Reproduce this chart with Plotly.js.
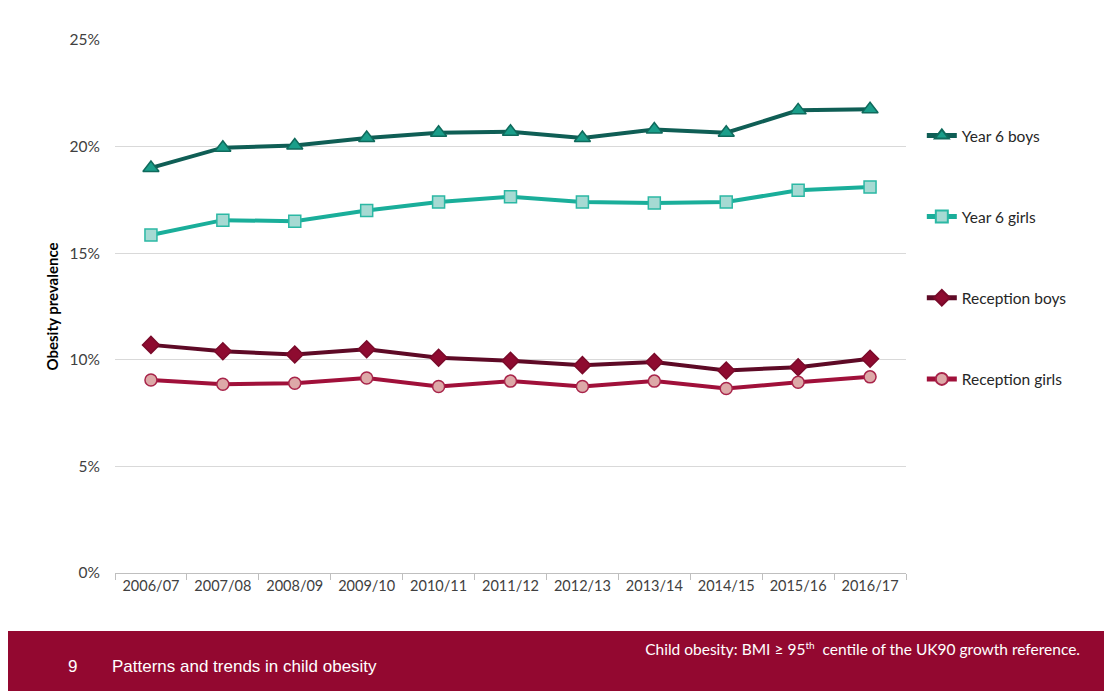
<!DOCTYPE html>
<html>
<head>
<meta charset="utf-8">
<script src="https://cdn.plot.ly/plotly-3.0.1.min.js"></script>
<style>
  html, body { margin: 0; padding: 0; background: #fff; }
  #wrap { position: relative; width: 1104px; height: 691px; overflow: hidden; }
  #chart { position: absolute; left: 0; top: 0; width: 1104px; height: 691px; }
  #banner { position: absolute; left: 8px; top: 631px; width: 1096px; height: 60px; background: #930830; z-index: 5; }
  #num { position: absolute; left: 60px; top: 26px; color: #fff; font-family: "Liberation Sans", Arial, sans-serif; font-size: 17px; }
  #title { position: absolute; left: 104px; top: 26px; color: #fff; font-family: "Liberation Sans", Arial, sans-serif; font-size: 17px; }
  #note { position: absolute; right: 24px; top: 8px; color: #fff; font-family: Lato, "Open Sans", sans-serif; font-size: 15.5px; white-space: nowrap; }
  #note sup { font-size: 10px; }
</style>
</head>
<body>
<div id="wrap">
  <div id="chart"></div>
  <div id="banner">
    <div id="num">9</div>
    <div id="title">Patterns and trends in child obesity</div>
    <div id="note">Child obesity: BMI ≥ 95<sup>th</sup>&nbsp; centile of the UK90 growth reference.</div>
  </div>
</div>
<script>
const years = ["2006/07","2007/08","2008/09","2009/10","2010/11","2011/12","2012/13","2013/14","2014/15","2015/16","2016/17"];
const year6Boys = [19.0, 19.95, 20.05, 20.4, 20.65, 20.7, 20.4, 20.8, 20.65, 21.7, 21.75];
const year6Girls = [15.85, 16.55, 16.5, 17.0, 17.4, 17.65, 17.4, 17.35, 17.4, 17.95, 18.1];
const receptionBoys = [10.7, 10.4, 10.25, 10.5, 10.1, 9.95, 9.75, 9.9, 9.5, 9.65, 10.05];
const receptionGirls = [9.05, 8.85, 8.9, 9.15, 8.75, 9.0, 8.75, 9.0, 8.65, 8.95, 9.2];
const yTicks = [0, 5, 10, 15, 20, 25];
const yTickLabels = ["0%", "5%", "10%", "15%", "20%", "25%"];

function tr(name, vals, lineColor, symbol, size, fill, outline, group) {
  return {
    type: "scatter", mode: "lines+markers", name: name, x: years, y: vals,
    legendgroup: group,
    line: { color: lineColor, width: 4 },
    marker: { symbol: symbol, size: size, color: fill, line: { color: outline, width: 1.5 } }
  };
}

const data = [
  tr("Year 6 boys", year6Boys, "#0F5E55", "triangle-up", 14, "#1A9E8A", "#0F6A5C", "a"),
  tr("Year 6 girls", year6Girls, "#1AAE9A", "square", 12, "#A6DAD3", "#2BB8A4", "b"),
  tr("Reception boys", receptionBoys, "#5E0A26", "diamond", 13, "#8E0B30", "#7A0A2A", "c"),
  tr("Reception girls", receptionGirls, "#A0103A", "circle", 12, "#DDA9A8", "#A8244A", "d")
];

const layout = {
  width: 1104, height: 691,
  margin: { l: 115, r: 198, t: 40, b: 118 },
  paper_bgcolor: "#fff", plot_bgcolor: "#fff",
  font: { family: "Lato, 'Open Sans', sans-serif", size: 14, color: "#404040" },
  showlegend: true,
  legend: {
    x: 1.02, xanchor: "left", y: 0.852, yanchor: "top",
    tracegroupgap: 58, itemwidth: 30, itemsizing: "constant",
    font: { family: "Lato, 'Open Sans', sans-serif", size: 15.5, color: "#262626" },
    bgcolor: "rgba(0,0,0,0)"
  },
  xaxis: {
    type: "category", range: [-0.5, 10.5],
    showgrid: false, showline: true, linecolor: "#bfbfbf", linewidth: 1,
    ticks: "outside", tickson: "boundaries", ticklen: 6, tickcolor: "#bfbfbf",
    tickfont: { size: 14.5, color: "#404040" }, zeroline: false, fixedrange: true
  },
  yaxis: {
    range: [0, 25], tickvals: yTicks, ticktext: yTickLabels,
    showgrid: true, gridcolor: "#d9d9d9", gridwidth: 1,
    showline: false, zeroline: false, ticks: "", ticklabelstandoff: 14,
    tickfont: { size: 15.5, color: "#404040" },
    title: { text: "<b>Obesity prevalence</b>", font: { size: 15, color: "#000" }, standoff: 7 },
    fixedrange: true
  }
};

Plotly.newPlot("chart", data, layout, { displayModeBar: false, staticPlot: true });
</script>
</body>
</html>
